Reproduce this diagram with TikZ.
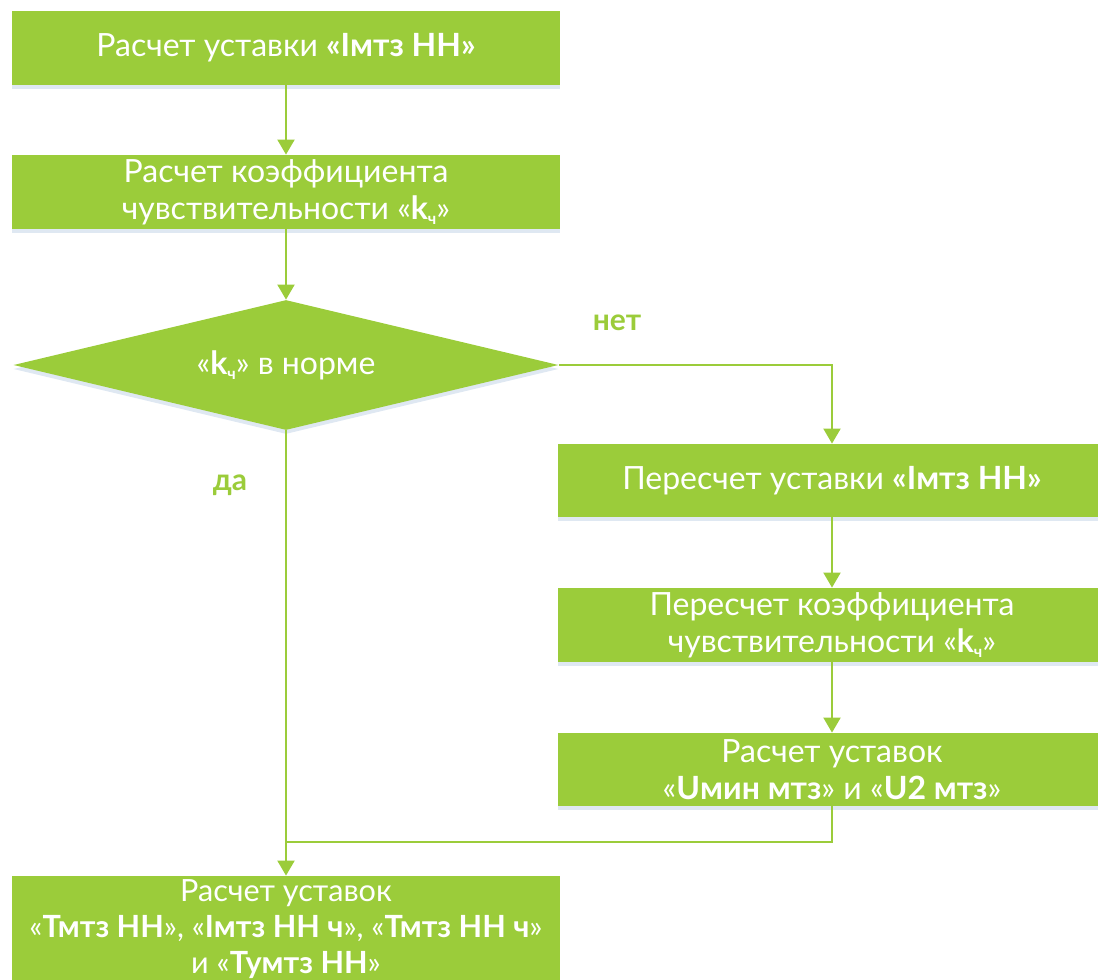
\documentclass[tikz,border=0pt]{standalone}
\usepackage{fontspec}
\setmainfont{Lato}
\usetikzlibrary{arrows.meta,shapes.geometric,shadows}
\definecolor{leaf}{HTML}{9BCC3A}
\definecolor{haze}{HTML}{C9D9EA}
\newcommand{\kch}{\textbf{k}\raisebox{-.3ex}{\bfseries\footnotesize ч}}
\tikzset{step box/.style={fill=leaf,text=white,inner sep=0pt,align=center,
  minimum width=274pt,font=\fontsize{16}{18.5}\selectfont,
  drop shadow={shadow xshift=0pt,shadow yshift=-2pt,fill=haze,opacity=.6}},
flow/.style={leaf,line width=1pt,-{Triangle[length=7.5pt,width=8.5pt]}},
wire/.style={leaf,line width=1pt},
answer/.style={text=leaf,font=\fontsize{15}{18}\selectfont\bfseries}}

\begin{document}
\begin{tikzpicture}[x=.5pt,y=-.5pt]
\useasboundingbox (0,0) rectangle (1098,980);
% left column
\node[step box,minimum height=37pt] (calcI) at (286,48)
  {Расчет уставки \textbf{«Iмтз НН»}};
\node[step box,minimum height=37pt] (calcK) at (286,192)
  {Расчет коэффициента\\чувствительности «\kch»};
\node[step box,diamond,aspect=4.2,minimum width=272.5pt,minimum height=65pt] (check) at (286,365)
  {«\kch» в норме};
\node[step box,minimum height=53pt,font=\fontsize{15.3}{18}\selectfont] (calcT) at (286,929)
  {Расчет уставок\\«\textbf{Тмтз НН}», «\textbf{Iмтз НН ч}», «\textbf{Тмтз НН ч}»\\и «\textbf{Тумтз НН}»};
% right column
\node[step box,minimum height=36.5pt] (recI) at (832,480.5)
  {Пересчет уставки \textbf{«Iмтз НН»}};
\node[step box,minimum height=37pt] (recK) at (832,625)
  {Пересчет коэффициента\\чувствительности «\kch»};
\node[step box,minimum height=36.5pt] (calcU) at (832,769.5)
  {Расчет уставок\\«\textbf{Uмин мтз}» и «\textbf{U2 мтз}»};
\node[answer] (no) at (617,323) {нет};
\node[answer] (yes) at (230,485) {да};
\coordinate (join) at (286,842);
% connectors
\draw[flow] (calcI) -- (calcK);
\draw[flow] (calcK) -- (check);
\draw[flow] (check.east) -| (recI.north);
\draw[flow] (recI) -- (recK);
\draw[flow] (recK) -- (calcU);
\draw[wire] (calcU.south) |- (join);
\draw[flow] (check) -- (calcT);
\end{tikzpicture}
\end{document}
